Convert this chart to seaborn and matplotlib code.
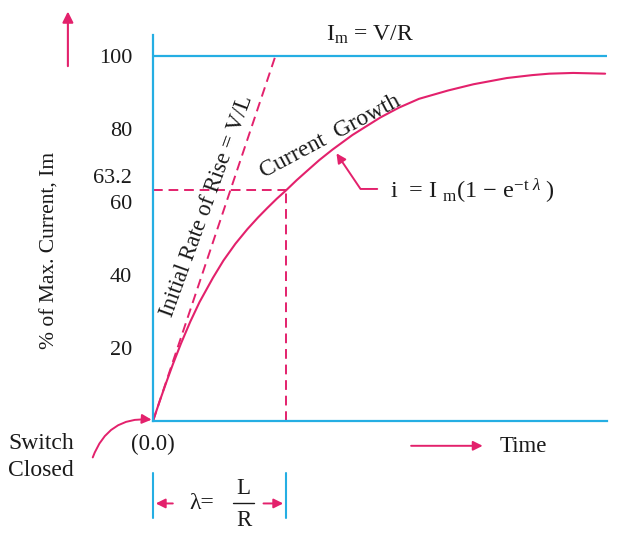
import matplotlib
matplotlib.use("Agg")
import matplotlib.pyplot as plt
import seaborn as sns

# time in units of the time constant (lambda = L/R), current in % of Im
time_const = [0, 0.05, 0.1, 0.15, 0.21, 0.28, 0.35, 0.45, 0.53, 0.62, 0.71,
              0.79, 0.86, 0.93, 1.0, 1.08, 1.16, 1.25, 1.35, 1.5, 1.71, 1.85,
              2.0, 2.22, 2.41, 2.66, 2.85, 2.98, 3.16, 3.40]
current_pct = [0, 5.4, 10.6, 15.6, 21.2, 27.2, 32.6, 39.2, 44, 48.6, 52.6,
               55.8, 58.4, 60.9, 63.2, 66, 68.6, 71.5, 74.4, 78.4, 83.2, 85.9,
               88.3, 90.6, 92.3, 94, 94.8, 95.2, 95.4, 95.2]

# initial rate of rise (tangent at origin)
tangent_t = [0, 0.92]
tangent_pct = [0, 100]

tau = 1.0
tau_pct = 63.2
max_pct = 100
y_ticks = [20, 40, 60, 80, 100]

AXIS = "#25aee3"
PINK = "#e3216c"
INK = "#1a1a1a"


def main():
    sns.set_style("white")
    plt.rcParams["font.family"] = ["Liberation Serif", "DejaVu Serif"]
    plt.rcParams["mathtext.fontset"] = "custom"
    plt.rcParams["mathtext.rm"] = "Liberation Serif"
    plt.rcParams["mathtext.it"] = "Liberation Serif:italic"

    fig = plt.figure(figsize=(6.21, 5.39), dpi=100)
    ax = fig.add_axes([153 / 621, 118 / 539, 454 / 621, 386 / 539])
    ax.set_xlim(0, 3.414)
    ax.set_ylim(0, 105.8)

    # curve and construction lines
    sns.lineplot(x=time_const, y=current_pct, ax=ax, color=PINK, lw=1.5)
    sns.lineplot(x=tangent_t, y=tangent_pct, ax=ax, color=PINK, lw=1.4,
                 linestyle=(0, (5, 3)))
    ax.plot([0, tau], [tau_pct, tau_pct], color=PINK, lw=1.4,
            linestyle=(0, (5, 3)))
    ax.plot([tau, tau], [0, tau_pct], color=PINK, lw=1.4,
            linestyle=(0, (5, 3)))
    ax.axhline(max_pct, color=AXIS, lw=1.6)

    for s in ["top", "right"]:
        ax.spines[s].set_visible(False)
    for s in ["left", "bottom"]:
        ax.spines[s].set_color(AXIS)
        ax.spines[s].set_linewidth(1.6)

    ax.set_xticks([])
    ax.set_yticks(y_ticks)
    ax.tick_params(axis="y", direction="in", length=9, width=1.5,
                   color=AXIS, pad=15, labelsize=16, labelcolor=INK)
    ax.text(-0.16, tau_pct + 3.4, "63.2", ha="right", va="center",
            fontsize=16, color=INK)

    ax.set_ylabel("% of Max. Current, Im", fontsize=15.5, color=INK)
    ax.yaxis.set_label_coords(-0.205, 0.443)

    # up arrow beside y label
    ax.annotate("", xy=(-0.64, 113), xytext=(-0.64, 96.5),
                annotation_clip=False,
                arrowprops=dict(arrowstyle="-|>", color=PINK, lw=1.5,
                                mutation_scale=16))

    ax.text(1.63, 104.2, r"I$_{\mathrm{m}}$ = V/R", ha="center",
            va="baseline", fontsize=17, color=INK, clip_on=False)

    ax.text(0.405, 59.0, "Initial Rate of Rise = V/L", rotation=70,
            ha="center", va="center", fontsize=16.5, color=INK,
            rotation_mode="anchor")
    ax.text(1.33, 78.0, "Current  Growth", rotation=28, ha="center",
            va="center", fontsize=17, color=INK, rotation_mode="anchor")

    # formula pointer
    ax.annotate("", xy=(1.368, 74.0), xytext=(1.707, 63.6),
                arrowprops=dict(arrowstyle="-|>", color=PINK, lw=1.4,
                                mutation_scale=14,
                                connectionstyle="angle,angleA=0,angleB=-56,rad=0"))
    ax.text(1.78, 63.0,
            r"i  = I $_{\mathrm{m}}$(1 $-$ e$^{-\mathrm{t}\ \lambda}$ )",
            ha="left", va="center", fontsize=17.5, color=INK)

    # below the time axis
    ax.text(-1.09, -9.8, "Switch\nClosed", ha="left", va="center",
            fontsize=17, color=INK, linespacing=1.4, clip_on=False)
    ax.annotate("", xy=(0.01, 0.3), xytext=(-0.46, -10.7),
                annotation_clip=False,
                arrowprops=dict(arrowstyle="-|>", color=PINK, lw=1.4,
                                mutation_scale=14,
                                connectionstyle="arc3,rad=-0.4"))
    ax.text(0, -6.4, "(0.0)", ha="center", va="center", fontsize=16.5,
            color=INK, clip_on=False)

    ax.annotate("", xy=(2.50, -6.8), xytext=(1.92, -6.8),
                annotation_clip=False,
                arrowprops=dict(arrowstyle="-|>", color=PINK, lw=1.4,
                                mutation_scale=14))
    ax.text(2.61, -6.9, "Time", ha="left", va="center", fontsize=16.5,
            color=INK, clip_on=False)

    # lambda dimension
    for xt in [0, tau]:
        ax.plot([xt, xt], [-14.2, -26.6], color=AXIS, lw=1.5, clip_on=False)
    ax.annotate("", xy=(0.0, -22.6), xytext=(0.17, -22.6),
                annotation_clip=False,
                arrowprops=dict(arrowstyle="-|>", color=PINK, lw=1.4,
                                mutation_scale=14))
    ax.annotate("", xy=(tau, -22.6), xytext=(tau - 0.19, -22.6),
                annotation_clip=False,
                arrowprops=dict(arrowstyle="-|>", color=PINK, lw=1.4,
                                mutation_scale=14))
    ax.text(0.37, -22.6, "\u03bb=", ha="center", va="center", fontsize=17,
            color=INK, clip_on=False)
    ax.text(0.68, -18.4, "L", ha="center", va="center", fontsize=16.5,
            color=INK, clip_on=False)
    ax.text(0.68, -27.4, "R", ha="center", va="center", fontsize=16.5,
            color=INK, clip_on=False)
    ax.plot([0.60, 0.76], [-22.6, -22.6], color=INK, lw=1.0, clip_on=False)

    fig.savefig("out.png", dpi=100)


if __name__ == "__main__":
    main()
